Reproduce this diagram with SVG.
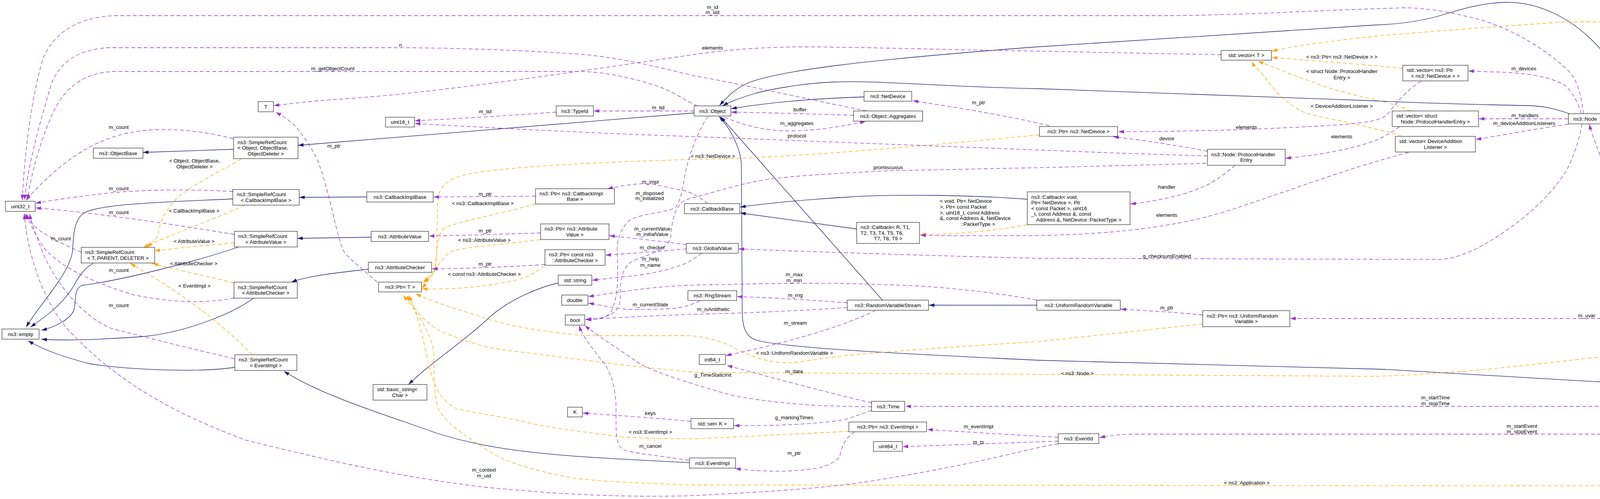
<svg xmlns="http://www.w3.org/2000/svg" width="5312" height="1277" viewBox="0 0 5312 1277">
<style>
text{font-family:'Liberation Sans',Arial,sans-serif;font-size:13.3px;fill:#000}
.c{text-anchor:middle}
.nd rect{fill:#fff;stroke:#000;stroke-width:1}
.inh{fill:none;stroke:#191970;stroke-width:1.3;marker-end:url(#mb)}
.use{fill:none;stroke:#9a32cd;stroke-width:1.3;stroke-dasharray:10,6;marker-end:url(#mp)}
.tpl{fill:none;stroke:#ffa500;stroke-width:1.3;stroke-dasharray:10,6;marker-end:url(#mo)}
</style>
<defs>
<marker id="mb" viewBox="0 0 14 10" refX="14" refY="5" markerWidth="14" markerHeight="10" markerUnits="userSpaceOnUse" orient="auto"><path d="M0,0.5L14,5L0,9.5z" fill="#191970"/></marker>
<marker id="mp" viewBox="0 0 14 10" refX="14" refY="5" markerWidth="14" markerHeight="10" markerUnits="userSpaceOnUse" orient="auto"><path d="M0,0.5L14,5L0,9.5z" fill="#9a32cd"/></marker>
<marker id="mo" viewBox="0 0 14 10" refX="14" refY="5" markerWidth="14" markerHeight="10" markerUnits="userSpaceOnUse" orient="auto"><path d="M0,0.5L14,5L0,9.5z" fill="#ffa500"/></marker>
</defs>
<rect width="5312" height="1277" fill="#fff"/>
<g id="connectors">
<!-- inheritance -->
<path class="inh" d="M4802,789L4661,815"/>
<path class="inh" d="M4536,802C4480,770 4410,700 4375,640C4320,520 4220,260 4094,122C4020,40 3930,4 3853,6C3790,8 3740,24 3700,36C3640,55 3580,62 3520,64L2640,121C2200,155 2000,180 1915,212C1880,228 1860,250 1842,270"/>
<path class="inh" d="M4018,291C3980,278 3950,270 3900,270C3700,266 3600,262 3520,258L2660,227C2400,222 2250,205 2133,210C2050,213 1960,231 1930,240C1890,252 1865,262 1850,271"/>
<path class="inh" d="M2212,248C2100,252 2000,258 1872,278"/>
<path class="inh" d="M4523,1003L4400,995L3540,945L2660,922C2300,905 2000,890 1935,870C1905,860 1900,830 1900,790L1898,420C1896,390 1880,340 1841,298"/>
<path class="inh" d="M2259,768L1845,299"/>
<path class="inh" d="M1777,289L763,372"/>
<path class="inh" d="M598,382L366,390"/>
<path class="inh" d="M939,504L766,505"/>
<path class="inh" d="M950,607L761,610"/>
<path class="inh" d="M943,689C880,696 790,705 746,722"/>
<path class="inh" d="M1765,1184C1450,1168 1250,1160 1080,1095C980,1060 820,1010 727,950"/>
<path class="inh" d="M1429,724C1370,738 1300,770 1253,812C1180,880 1100,930 1046,984"/>
<path class="inh" d="M2630,510C2500,500 2300,495 2160,505C2050,512 1950,522 1895,530"/>
<path class="inh" d="M2193,586L1895,545"/>
<path class="inh" d="M2654,781L2378,781"/>
<path class="inh" d="M596,509C450,516 260,520 215,545C185,565 188,620 186,640C180,700 100,780 67,837"/>
<path class="inh" d="M238,674C210,690 195,720 189,731C160,780 110,815 78,837"/>
<path class="inh" d="M611,632C500,670 300,720 210,730C190,740 195,760 190,790C185,815 140,838 106,845"/>
<path class="inh" d="M649,763C600,800 480,850 370,861C250,870 150,872 106,868"/>
<path class="inh" d="M601,940C500,955 320,945 230,931C170,915 120,900 72,872"/>
<!-- template instances -->
<path class="tpl" d="M617,407C560,440 480,480 450,510C420,545 408,570 405,600C400,615 385,625 367,633"/>
<path class="tpl" d="M626,526C560,555 480,585 420,610C400,618 385,625 376,633"/>
<path class="tpl" d="M600,622C520,628 450,635 396,642"/>
<path class="tpl" d="M599,724C520,705 450,690 390,674"/>
<path class="tpl" d="M646,908C560,820 450,740 333,674"/>
<path class="tpl" d="M1371,522C1250,555 1150,570 1130,590C1115,620 1118,680 1110,700C1100,712 1092,718 1082,723"/>
<path class="tpl" d="M1384,613C1300,625 1200,630 1160,642C1130,655 1120,690 1080,738"/>
<path class="tpl" d="M1395,681C1370,695 1360,705 1340,712C1250,735 1150,742 1080,739"/>
<path class="tpl" d="M2661,345C2300,380 2000,405 1780,408C1600,412 1300,425 1200,445C1140,458 1125,480 1121,510C1118,560 1120,640 1115,680C1110,700 1095,712 1084,721"/>
<path class="tpl" d="M3079,829L2660,874C2400,890 2200,905 2133,914C2080,920 2040,930 2000,928C1950,925 1910,905 1880,890C1840,870 1800,860 1760,859L1511,859C1400,853 1280,830 1224,808C1150,785 1100,770 1064,751"/>
<path class="tpl" d="M4217,899C4000,925 3800,948 3692,954C3600,960 3560,962 3520,963L1780,953C1700,945 1600,935 1569,931C1450,915 1320,900 1253,890C1180,870 1130,850 1110,837C1080,815 1060,790 1041,756"/>
<path class="tpl" d="M2173,1104C2000,1112 1850,1120 1780,1123C1650,1122 1600,1120 1569,1115C1450,1100 1380,1090 1339,1078C1250,1060 1200,1055 1167,1045C1120,1020 1105,970 1098,931C1085,880 1070,800 1046,756"/>
<path class="tpl" d="M4903,1019C4870,1090 4780,1200 4691,1221C4650,1240 4620,1244 4604,1244L1780,1241C1650,1238 1500,1230 1454,1221C1350,1200 1290,1180 1253,1155C1180,1110 1140,1080 1121,1045C1110,1000 1112,960 1110,900C1105,850 1060,790 1032,756"/>
<path class="tpl" d="M3591,175C3500,165 3350,155 3256,147"/>
<path class="tpl" d="M5207,283C5170,200 5100,120 5040,98C4990,70 4950,56 4923,56L4008,56C3800,70 3600,85 3520,93C3400,105 3300,120 3256,131"/>
<path class="tpl" d="M3612,284C3580,270 3550,262 3520,255C3450,240 3380,220 3357,208C3300,190 3260,170 3220,157"/>
<path class="tpl" d="M3589,349C3570,340 3540,335 3520,330C3450,310 3370,300 3335,286C3300,270 3260,230 3243,204C3225,180 3210,168 3205,157"/>
<path class="tpl" d="M2630,575C2550,590 2450,600 2356,600"/>
<!-- usage -->
<path class="use" d="M4054,291C4048,250 4040,200 4008,175C3950,120 3850,60 3750,41C3700,28 3640,20 3595,20C3400,25 3200,38 3000,40L293,40C200,45 140,80 110,150C80,250 62,400 57,512"/>
<path class="use" d="M2219,284C2000,240 1850,205 1780,195C1700,175 1600,150 1500,140C1300,125 1100,122 1000,122L281,122C200,125 150,160 130,220C100,320 70,430 63,512"/>
<path class="use" d="M1785,271C1760,260 1730,240 1712,232C1650,205 1550,183 1483,183L293,183C220,185 170,220 140,280C110,340 80,440 70,512"/>
<path class="use" d="M3126,140L2660,131C2400,127 2200,120 2047,120C1900,121 1800,136 1780,139C1500,180 1100,240 880,253C800,258 750,265 701,270"/>
<path class="use" d="M1424,287C1300,296 1150,305 1062,309"/>
<path class="use" d="M1777,284L1520,284"/>
<path class="use" d="M3091,399C2900,394 2700,385 2660,384L1760,349C1500,340 1250,327 1062,316"/>
<path class="use" d="M1812,298C1790,330 1770,380 1760,420C1748,460 1750,500 1730,530C1710,545 1640,545 1610,565C1585,590 1580,620 1580,640C1582,700 1585,760 1563,800C1550,815 1530,818 1498,817"/>
<path class="use" d="M1812,521C1790,505 1770,490 1741,486C1700,478 1670,470 1655,470C1620,470 1590,476 1555,483"/>
<path class="use" d="M1757,626C1700,618 1620,610 1560,603"/>
<path class="use" d="M1758,637C1700,642 1620,648 1550,653"/>
<path class="use" d="M1797,648C1780,660 1770,665 1760,672C1720,690 1650,705 1597,708C1560,712 1540,715 1516,717"/>
<path class="use" d="M3088,418C2900,423 2700,428 2660,429L2277,437C2100,445 1990,453 1930,465C1870,478 1800,500 1760,510C1730,520 1720,560 1718,600C1715,640 1660,650 1620,668C1590,685 1588,720 1588,760C1588,800 1560,815 1500,818"/>
<path class="use" d="M1764,1178C1680,1165 1620,1160 1597,1151C1575,1140 1577,1110 1577,1045C1577,990 1560,940 1540,923C1510,880 1490,860 1483,833"/>
<path class="use" d="M2169,787C2050,795 1900,802 1780,804C1680,808 1580,812 1498,818"/>
<path class="use" d="M4050,317C4045,350 4030,400 4008,440C3950,530 3850,600 3778,637C3740,655 3710,664 3681,664L2660,661C2400,655 2100,645 1891,637"/>
<path class="use" d="M2231,1050C2190,1065 2160,1076 2150,1076C2080,1085 2000,1090 1879,1089"/>
<path class="use" d="M2231,1041C2100,1040 2000,1035 1875,1012C1830,1000 1800,990 1780,984C1700,960 1650,940 1626,923C1580,890 1530,860 1497,833"/>
<path class="use" d="M2231,1031C2100,1000 1950,960 1861,935"/>
<path class="use" d="M2242,794C2150,840 2000,880 1858,910"/>
<path class="use" d="M2169,775C2080,768 1980,762 1887,759"/>
<path class="use" d="M2654,768C2500,740 2350,730 2277,729C2150,724 2050,723 1760,730C1650,735 1570,750 1506,759"/>
<path class="use" d="M1792,770C1770,780 1740,790 1712,790C1670,792 1640,792 1615,792C1570,790 1540,780 1506,776"/>
<path class="use" d="M2709,1119C2600,1113 2500,1107 2374,1099"/>
<path class="use" d="M2709,1129C2600,1133 2450,1138 2311,1143"/>
<path class="use" d="M2709,1136C2680,1140 2670,1143 2660,1145C2550,1170 2450,1196 2219,1233C2100,1250 1990,1257 1760,1269C1600,1272 1454,1268 1224,1245C1000,1215 900,1192 631,1127C450,1060 300,980 172,841C110,770 70,650 62,547"/>
<path class="use" d="M597,355C500,330 402,325 330,340C230,360 150,420 66,512"/>
<path class="use" d="M596,490C500,485 402,484 300,492C230,498 150,510 91,520"/>
<path class="use" d="M600,600C450,575 250,545 91,532"/>
<path class="use" d="M208,645C170,630 110,600 90,580C75,565 68,555 64,547"/>
<path class="use" d="M600,763C500,780 420,770 344,755C260,730 160,690 115,637C95,610 75,570 68,547"/>
<path class="use" d="M600,918C500,895 400,870 287,841C210,810 150,730 115,660C95,610 80,570 76,547"/>
<path class="use" d="M2185,295C2050,291 1950,288 1872,287"/>
<path class="use" d="M1855,300C1900,320 1960,335 2018,335C2100,335 2170,320 2216,311"/>
<path class="use" d="M2686,322C2600,300 2450,275 2337,258"/>
<path class="use" d="M3638,208C3600,230 3570,270 3554,290C3540,308 3500,316 3386,322C3200,333 3000,337 2863,337"/>
<path class="use" d="M3091,387C3000,370 2920,358 2850,350"/>
<path class="use" d="M3162,423C3130,450 3100,470 3080,478C3030,500 2960,515 2894,522"/>
<path class="use" d="M3583,324C3560,340 3545,350 3520,360C3480,375 3400,395 3291,405"/>
<path class="use" d="M3606,390C3570,400 3540,408 3520,414C3400,450 3250,505 3157,535C3050,570 2900,600 2640,603C2500,604 2420,603 2356,602"/>
<path class="use" d="M4048,291C4040,260 4020,230 4008,220C3970,195 3900,185 3818,184C3790,183 3770,182 3759,182"/>
<path class="use" d="M4015,304L3786,304"/>
<path class="use" d="M4015,318C3930,330 3850,345 3778,357"/>
<path class="use" d="M4101,304L5135,304"/>
<path class="use" d="M5211,324C5190,400 5150,520 5110,604C5090,660 5060,740 5040,780C5010,850 4970,930 4926,993"/>
<path class="use" d="M4810,1007L4652,1007"/>
<path class="use" d="M4563,993C4520,970 4470,950 4420,927C4400,918 4380,910 4349,900"/>
<path class="use" d="M4551,828C4520,840 4480,850 4420,866C4410,869 4400,871 4392,873"/>
<path class="use" d="M4515,815L3303,815"/>
<path class="use" d="M4802,780C4740,775 4680,770 4622,767"/>
<path class="use" d="M4292,870C4260,780 4220,700 4192,640C4150,520 4100,420 4068,318"/>
<path class="use" d="M3079,806C3000,798 2930,795 2869,791"/>
<path class="use" d="M4523,1018C4480,1028 4440,1035 4400,1035C4360,1037 4340,1040 4324,1040L2318,1040"/>
<path class="use" d="M4560,1022C4530,1050 4480,1070 4400,1096C4370,1103 4350,1111 4324,1111L2900,1111C2860,1112 2840,1115 2815,1120"/>
<path class="use" d="M2188,1105C2165,1120 2155,1140 2150,1168C2140,1185 2100,1200 2076,1200C2030,1208 1950,1208 1882,1199"/>
<path class="use" d="M1768,1078C1680,1070 1580,1063 1492,1057"/>
<path class="use" d="M1371,502L1110,504"/>
<path class="use" d="M1384,596C1300,599 1200,602 1098,604"/>
<path class="use" d="M1395,677C1300,683 1200,687 1106,688"/>
<path class="use" d="M966,722C930,690 890,660 878,640C860,590 850,530 838,490C825,440 812,405 804,392C780,350 760,325 746,314C730,300 720,295 706,287"/>
<g id="edge-labels">
<text class="c" x="1824" y="22.5">m_id</text><text class="c" x="1824" y="35.5">m_sid</text>
<text class="c" x="1025" y="119.5">n</text>
<text class="c" x="852" y="179.5">m_getObjectCount</text>
<text class="c" x="1824" y="126.5">elements</text>
<text class="c" x="1242" y="289.5">m_tid</text>
<text class="c" x="1685" y="279.5">m_tid</text>
<text class="c" x="304" y="329.5">m_count</text>
<text class="c" x="304" y="486.5">m_count</text>
<text class="c" x="304" y="547.5">m_count</text>
<text class="c" x="156" y="614.5">m_count</text>
<text class="c" x="304" y="695.5">m_count</text>
<text class="c" x="304" y="785.5">m_count</text>
<text class="c" x="498" y="415.5">&lt; Object, ObjectBase,</text><text class="c" x="498" y="430.5">ObjectDeleter &gt;</text>
<text class="c" x="497" y="543.5">&lt; CallbackImplBase &gt;</text>
<text class="c" x="497" y="621.5">&lt; AttributeValue &gt;</text>
<text class="c" x="496" y="678.5">&lt; AttributeChecker &gt;</text>
<text class="c" x="498" y="735.5">&lt; EventImpl &gt;</text>
<text class="c" x="855" y="377.5">m_ptr</text>
<text class="c" x="1242" y="500.5">m_ptr</text>
<text class="c" x="1236" y="524.5">&lt; ns3::CallbackImplBase &gt;</text>
<text class="c" x="1665" y="469.5">m_impl</text>
<text class="c" x="1663" y="498.5">m_disposed</text><text class="c" x="1663" y="511.5">m_initialized</text>
<text class="c" x="1242" y="594.5">m_ptr</text>
<text class="c" x="1240" y="618.5">&lt; ns3::AttributeValue &gt;</text>
<text class="c" x="1670" y="589.5">m_currentValue</text><text class="c" x="1670" y="603.5">m_initialValue</text>
<text class="c" x="1670" y="637.5">m_checker</text>
<text class="c" x="1242" y="679.5">m_ptr</text>
<text class="c" x="1240" y="705.5">&lt; const ns3::AttributeChecker &gt;</text>
<text class="c" x="1665" y="666.5">m_help</text><text class="c" x="1665" y="682.5">m_name</text>
<text class="c" x="1665" y="783.5">m_currentState</text>
<text class="c" x="1665" y="1061.5">keys</text>
<text class="c" x="1665" y="1109.5">&lt; ns3::EventImpl &gt;</text>
<text class="c" x="1665" y="1145.5">m_cancel</text>
<text class="c" x="1239" y="1206.5">m_context</text><text class="c" x="1239" y="1221.5">m_uid</text>
<text class="c" x="1825" y="403.5">&lt; ns3::NetDevice &gt;</text>
<text class="c" x="2048" y="284.5">buffer</text>
<text class="c" x="2040" y="319.5">m_aggregates</text>
<text class="c" x="2040" y="351.5">protocol</text>
<text class="c" x="2274" y="432.5">promiscuous</text>
<text class="c" x="2505" y="266.5">m_ptr</text>
<text x="2406" y="518.5">&lt; void, Ptr&lt; NetDevice</text>
<text x="2406" y="533.5">&gt;, Ptr&lt; const Packet</text>
<text x="2406" y="548.5">&gt;, uint16_t, const Address</text>
<text x="2406" y="562.5">&amp;, const Address &amp;, NetDevice</text>
<text class="c" x="2503" y="577.5">::PacketType &gt;</text>
<text class="c" x="2033" y="706.5">m_max</text><text class="c" x="2033" y="721.5">m_min</text>
<text class="c" x="2036" y="759.5">m_rng</text>
<text class="c" x="1826" y="795.5">m_isAntithetic</text>
<text class="c" x="2036" y="830.5">m_stream</text>
<text class="c" x="2034" y="907.5">&lt; ns3::UniformRandomVariable &gt;</text>
<text class="c" x="2033" y="954.5">m_data</text>
<text class="c" x="1825" y="963.5">g_TimeStaticInit</text>
<text class="c" x="2033" y="1072.5">g_markingTimes</text>
<text class="c" x="2505" y="1095.5">m_eventImpl</text>
<text class="c" x="2505" y="1135.5">m_ts</text>
<text class="c" x="2033" y="1163.5">m_ptr</text>
<text class="c" x="3435" y="149.5">&lt; ns3::Ptr&lt; ns3::NetDevice &gt; &gt;</text>
<text class="c" x="3435" y="186.5">&lt; struct Node::ProtocolHandler</text><text class="c" x="3435" y="202.5">Entry &gt;</text>
<text class="c" x="3435" y="275.5">&lt; DeviceAdditionListener &gt;</text>
<text class="c" x="3191" y="329.5">elements</text>
<text class="c" x="2987" y="358.5">device</text>
<text class="c" x="3435" y="353.5">elements</text>
<text class="c" x="2987" y="482.5">handler</text>
<text class="c" x="2987" y="554.5">elements</text>
<text class="c" x="2987" y="659.5">g_checksumEnabled</text>
<text class="c" x="2987" y="791.5">m_ptr</text>
<text class="c" x="2758" y="959.5">&lt; ns3::Node &gt;</text>
<text class="c" x="3192" y="1239.5">&lt; ns3::Application &gt;</text>
<text class="c" x="4302" y="51.5">&lt; ns3::Ptr&lt; ns3::Application &gt; &gt;</text>
<text class="c" x="3901" y="179.5">m_devices</text>
<text class="c" x="3904" y="299.5">m_handlers</text>
<text class="c" x="3902" y="319.5">m_deviceAdditionListeners</text>
<text class="c" x="4148" y="473.5">m_ptr</text>
<text class="c" x="4062" y="811.5">m_uvar</text>
<text class="c" x="3675" y="1021.5">m_startTime</text><text class="c" x="3675" y="1036.5">m_stopTime</text>
<text class="c" x="3896" y="1094.5">m_startEvent</text><text class="c" x="3896" y="1108.5">m_stopEvent</text>
<text class="c" x="4588" y="299.5">m_applications</text>
<text class="c" x="5080" y="602.5">elements</text>
<text class="c" x="4733" y="767.5">EXT_NUMBER</text>
<text class="c" x="4463" y="843.5">m_node</text>
<text class="c" x="4463" y="926.5">m_node</text>
<text class="c" x="4732" y="1003.5">m_ptr</text>
</g>
</g>
<g id="nodes">
<g id="n_uint32" class="nd"><rect x="14" y="515" width="76" height="26"/><text class="c" x="52" y="532.5">uint32_t</text></g>
<g id="n_objectbase" class="nd"><rect x="239" y="379" width="127" height="26"/><text class="c" x="302.5" y="396.5">ns3::ObjectBase</text></g>
<g id="n_T" class="nd"><rect x="661" y="260" width="39" height="26"/><text class="c" x="680.5" y="277.5">T</text></g>
<g id="n_src_object" class="nd"><rect x="598" y="351" width="165" height="55"/><text x="608" y="368.5">ns3::SimpleRefCount</text><text x="608" y="383">&lt; Object, ObjectBase,</text><text class="c" x="680.5" y="397.5">ObjectDeleter &gt;</text></g>
<g id="n_src_cib" class="nd"><rect x="596" y="485" width="170" height="40"/><text x="606" y="502.25">ns3::SimpleRefCount</text><text class="c" x="681" y="516.75">&lt; CallbackImplBase &gt;</text></g>
<g id="n_src_av" class="nd"><rect x="600" y="592" width="161" height="40"/><text x="610" y="609.25">ns3::SimpleRefCount</text><text class="c" x="680.5" y="623.75">&lt; AttributeValue &gt;</text></g>
<g id="n_src_tpd" class="nd"><rect x="208" y="633" width="188" height="40"/><text x="218" y="650.25">ns3::SimpleRefCount</text><text class="c" x="302" y="664.75">&lt; T, PARENT, DELETER &gt;</text></g>
<g id="n_src_ac" class="nd"><rect x="599" y="722" width="162" height="41"/><text x="609" y="739.75">ns3::SimpleRefCount</text><text class="c" x="680" y="754.25">&lt; AttributeChecker &gt;</text></g>
<g id="n_empty" class="nd"><rect x="5" y="842" width="95" height="26"/><text class="c" x="52.5" y="859.5">ns3::empty</text></g>
<g id="n_src_ei" class="nd"><rect x="601" y="908" width="159" height="40"/><text x="611" y="925.25">ns3::SimpleRefCount</text><text class="c" x="680.5" y="939.75">&lt; EventImpl &gt;</text></g>
<g id="n_uint16" class="nd"><rect x="987" y="300" width="74" height="25"/><text class="c" x="1024" y="317">uint16_t</text></g>
<g id="n_typeid" class="nd"><rect x="1424" y="271" width="95" height="26"/><text class="c" x="1471.5" y="288.5">ns3::TypeId</text></g>
<g id="n_cib" class="nd"><rect x="939" y="491" width="170" height="26"/><text class="c" x="1024" y="508.5">ns3::CallbackImplBase</text></g>
<g id="n_ptr_cib" class="nd"><rect x="1371" y="483" width="202" height="39"/><text x="1381" y="499.75">ns3::Ptr&lt; ns3::CallbackImpl</text><text class="c" x="1472" y="514.25">Base &gt;</text></g>
<g id="n_av" class="nd"><rect x="950" y="592" width="147" height="26"/><text class="c" x="1023.5" y="609.5">ns3::AttributeValue</text></g>
<g id="n_ptr_av" class="nd"><rect x="1384" y="573" width="175" height="40"/><text x="1394" y="590.25">ns3::Ptr&lt; ns3::Attribute</text><text class="c" x="1471.5" y="604.75">Value &gt;</text></g>
<g id="n_ptr_ac" class="nd"><rect x="1395" y="639" width="154" height="40"/><text x="1405" y="656.25">ns3::Ptr&lt; const ns3</text><text class="c" x="1472" y="670.75">::AttributeChecker &gt;</text></g>
<g id="n_ac" class="nd"><rect x="943" y="671" width="162" height="26"/><text class="c" x="1024" y="688.5">ns3::AttributeChecker</text></g>
<g id="n_ptr_T" class="nd"><rect x="969" y="722" width="110" height="25"/><text class="c" x="1024" y="739">ns3::Ptr&lt; T &gt;</text></g>
<g id="n_string" class="nd"><rect x="1429" y="704" width="86" height="26"/><text class="c" x="1472" y="721.5">std::string</text></g>
<g id="n_double" class="nd"><rect x="1438" y="755" width="67" height="26"/><text class="c" x="1471.5" y="772.5">double</text></g>
<g id="n_bool" class="nd"><rect x="1447" y="806" width="50" height="26"/><text class="c" x="1472" y="823.5">bool</text></g>
<g id="n_basic_string" class="nd"><rect x="955" y="984" width="138" height="40"/><text x="965" y="1001.25">std::basic_string&lt;</text><text class="c" x="1024" y="1015.75">Char &gt;</text></g>
<g id="n_K" class="nd"><rect x="1453" y="1042" width="38" height="25"/><text class="c" x="1472" y="1059">K</text></g>
<g id="n_object" class="nd"><rect x="1777" y="271" width="94" height="26"/><text class="c" x="1824" y="288.5">ns3::Object</text></g>
<g id="n_netdevice" class="nd"><rect x="2212" y="234" width="122" height="25"/><text class="c" x="2273" y="251">ns3::NetDevice</text></g>
<g id="n_aggregates" class="nd"><rect x="2185" y="284" width="177" height="26"/><text class="c" x="2273.5" y="301.5">ns3::Object::Aggregates</text></g>
<g id="n_callbackbase" class="nd"><rect x="1752" y="521" width="142" height="26"/><text class="c" x="1823" y="538.5">ns3::CallbackBase</text></g>
<g id="n_globalvalue" class="nd"><rect x="1757" y="623" width="133" height="25"/><text class="c" x="1823.5" y="640">ns3::GlobalValue</text></g>
<g id="n_callback_r" class="nd"><rect x="2193" y="569" width="161" height="54"/><text x="2203" y="586">ns3::Callback&lt; R, T1,</text><text x="2203" y="600.5">T2, T3, T4, T5, T6,</text><text class="c" x="2273.5" y="615">T7, T8, T9 &gt;</text></g>
<g id="n_callback_void" class="nd"><rect x="2630" y="491" width="263" height="84"/><text x="2640" y="508.5">ns3::Callback&lt; void,</text><text x="2640" y="523">Ptr&lt; NetDevice &gt;, Ptr</text><text x="2640" y="537.5">&lt; const Packet &gt;, uint16</text><text x="2640" y="552">_t, const Address &amp;, const</text><text class="c" x="2761.5" y="566.5">Address &amp;, NetDevice::PacketType &gt;</text></g>
<g id="n_rngstream" class="nd"><rect x="1761" y="744" width="125" height="25"/><text class="c" x="1823.5" y="761">ns3::RngStream</text></g>
<g id="n_rvs" class="nd"><rect x="2169" y="768" width="208" height="26"/><text class="c" x="2273" y="785.5">ns3::RandomVariableStream</text></g>
<g id="n_int64" class="nd"><rect x="1790" y="907" width="67" height="26"/><text class="c" x="1823.5" y="924.5">int64_t</text></g>
<g id="n_time" class="nd"><rect x="2231" y="1027" width="85" height="26"/><text class="c" x="2273.5" y="1044.5">ns3::Time</text></g>
<g id="n_set" class="nd"><rect x="1769" y="1071" width="109" height="26"/><text class="c" x="1823.5" y="1088.5">std::set&lt; K &gt;</text></g>
<g id="n_ptr_ei" class="nd"><rect x="2173" y="1080" width="199" height="25"/><text class="c" x="2272.5" y="1097">ns3::Ptr&lt; ns3::EventImpl &gt;</text></g>
<g id="n_uint64" class="nd"><rect x="2236" y="1130" width="74" height="25"/><text class="c" x="2273" y="1147">uint64_t</text></g>
<g id="n_eventimpl" class="nd"><rect x="1765" y="1172" width="118" height="26"/><text class="c" x="1824" y="1189.5">ns3::EventImpl</text></g>
<g id="n_vector_T" class="nd"><rect x="3126" y="129" width="129" height="25"/><text class="c" x="3190.5" y="146">std::vector&lt; T &gt;</text></g>
<g id="n_ptr_nd" class="nd"><rect x="2661" y="324" width="200" height="25"/><text class="c" x="2761" y="341">ns3::Ptr&lt; ns3::NetDevice &gt;</text></g>
<g id="n_phe" class="nd"><rect x="3091" y="382" width="199" height="41"/><text x="3101" y="399.75">ns3::Node::ProtocolHandler</text><text class="c" x="3190.5" y="414.25">Entry</text></g>
<g id="n_urv" class="nd"><rect x="2654" y="768" width="214" height="26"/><text class="c" x="2761" y="785.5">ns3::UniformRandomVariable</text></g>
<g id="n_ptr_urv" class="nd"><rect x="3079" y="795" width="223" height="41"/><text x="3089" y="812.75">ns3::Ptr&lt; ns3::UniformRandom</text><text class="c" x="3190.5" y="827.25">Variable &gt;</text></g>
<g id="n_eventid" class="nd"><rect x="2709" y="1110" width="104" height="25"/><text class="c" x="2761" y="1127">ns3::EventId</text></g>
<g id="n_vec_ptr_nd" class="nd"><rect x="3591" y="167" width="167" height="40"/><text x="3601" y="184.25">std::vector&lt; ns3::Ptr</text><text class="c" x="3674.5" y="198.75">&lt; ns3::NetDevice &gt; &gt;</text></g>
<g id="n_vec_phe" class="nd"><rect x="3564" y="284" width="221" height="40"/><text x="3574" y="301.25">std::vector&lt; struct</text><text class="c" x="3674.5" y="315.75">Node::ProtocolHandlerEntry &gt;</text></g>
<g id="n_node" class="nd"><rect x="4015" y="291" width="86" height="26"/><text class="c" x="4058" y="308.5">ns3::Node</text></g>
<g id="n_vec_dal" class="nd"><rect x="3572" y="349" width="205" height="40"/><text x="3582" y="366.25">std::vector&lt; DeviceAddition</text><text class="c" x="3674.5" y="380.75">Listener &gt;</text></g>
<g id="n_ptr_node" class="nd"><rect x="4217" y="874" width="167" height="25"/><text class="c" x="4300.5" y="891">ns3::Ptr&lt; ns3::Node &gt;</text></g>
<g id="n_vec_ptr_app" class="nd"><rect x="5136" y="283" width="170" height="41"/><text x="5146" y="300.75">std::vector&lt; ns3::Ptr</text><text class="c" x="5221" y="315.25">&lt; ns3::Application &gt; &gt;</text></g>
<g id="n_uint8" class="nd"><rect x="4554" y="751" width="67" height="26"/><text class="c" x="4587.5" y="768.5">uint8_t</text></g>
<g id="n_ipv6extdest" class="nd"><rect x="4802" y="776" width="220" height="25" style="fill:#bfbfbf"/><text class="c" x="4912" y="793">ns3::Ipv6ExtensionDestination</text></g>
<g id="n_ipv6ext" class="nd"><rect x="4515" y="802" width="145" height="25"/><text class="c" x="4587.5" y="819">ns3::Ipv6Extension</text></g>
<g id="n_application" class="nd"><rect x="4523" y="994" width="128" height="25"/><text class="c" x="4587" y="1011">ns3::Application</text></g>
<g id="n_ptr_app" class="nd"><rect x="4810" y="994" width="205" height="25"/><text class="c" x="4912.5" y="1011">ns3::Ptr&lt; ns3::Application &gt;</text></g>
</g>
</svg>
